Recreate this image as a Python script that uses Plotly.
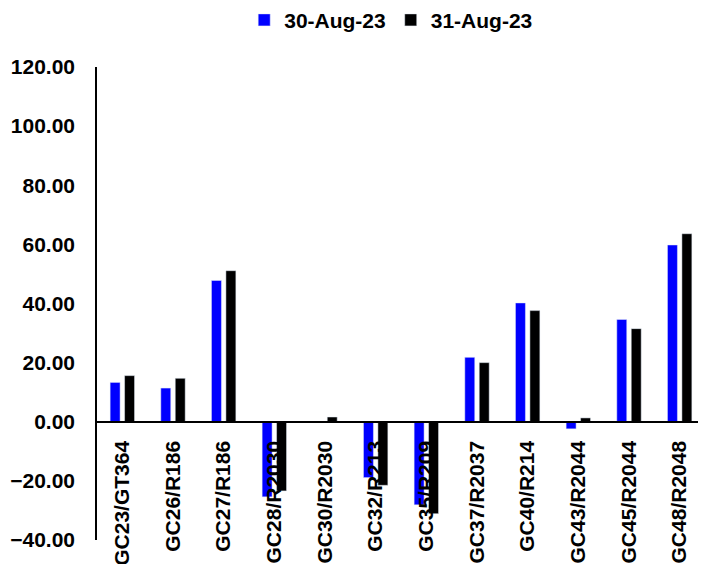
import plotly.graph_objects as go

categories = ["GC23/GT364", "GC26/R186", "GC27/R186", "GC28/R2030", "GC30/R2030",
              "GC32/R213", "GC35/R209", "GC37/R2037", "GC40/R214", "GC43/R2044",
              "GC45/R2044", "GC48/R2048"]
aug30 = [13.3, 11.4, 47.8, -25.4, -0.3, -18.9, -28.1, 21.8, 40.2, -2.4, 34.6, 59.8]
aug31 = [15.6, 14.7, 51.1, -23.4, 1.6, -21.5, -31.1, 20.0, 37.6, 1.3, 31.5, 63.6]
series_names = ["30-Aug-23", "31-Aug-23"]
y_ticks = [120, 100, 80, 60, 40, 20, 0, -20, -40]

FONT = "Liberation Sans"
FS = 21

fig = go.Figure()
fig.add_trace(go.Bar(x=categories, y=aug30, name=series_names[0], marker_color="#0000FF"))
fig.add_trace(go.Bar(x=categories, y=aug31, name=series_names[1], marker_color="#000000"))

fig.update_layout(
    width=698, height=556,
    margin=dict(l=89, r=1, t=59, b=24),
    paper_bgcolor="white", plot_bgcolor="white",
    barmode="group", bargap=0.43, bargroupgap=0.31,
    font=dict(family=FONT, size=FS, color="black", weight="bold"),
    legend=dict(orientation="h", xref="container", yref="container",
                x=0.549, xanchor="center", y=0.978, yanchor="middle",
                font=dict(family=FONT, size=FS, color="black", weight="bold"),
                itemwidth=30, traceorder="normal"),
    xaxis=dict(anchor="free", position=0.25, showline=True, linecolor="black", linewidth=1.5,
               ticks="", tickangle=-90, showgrid=False, zeroline=False, automargin=False,
               ticklabelstandoff=10,
               tickfont=dict(family=FONT, size=FS, color="black", weight="bold")),
    yaxis=dict(range=[-40, 120], tickvals=y_ticks, tickformat=".2f", showline=True,
               linecolor="black", linewidth=1.5, ticks="", showgrid=False, zeroline=False,
               automargin=False, ticklabelstandoff=16,
               tickfont=dict(family=FONT, size=FS, color="black", weight="bold")),
)

fig.write_html("out.html")
